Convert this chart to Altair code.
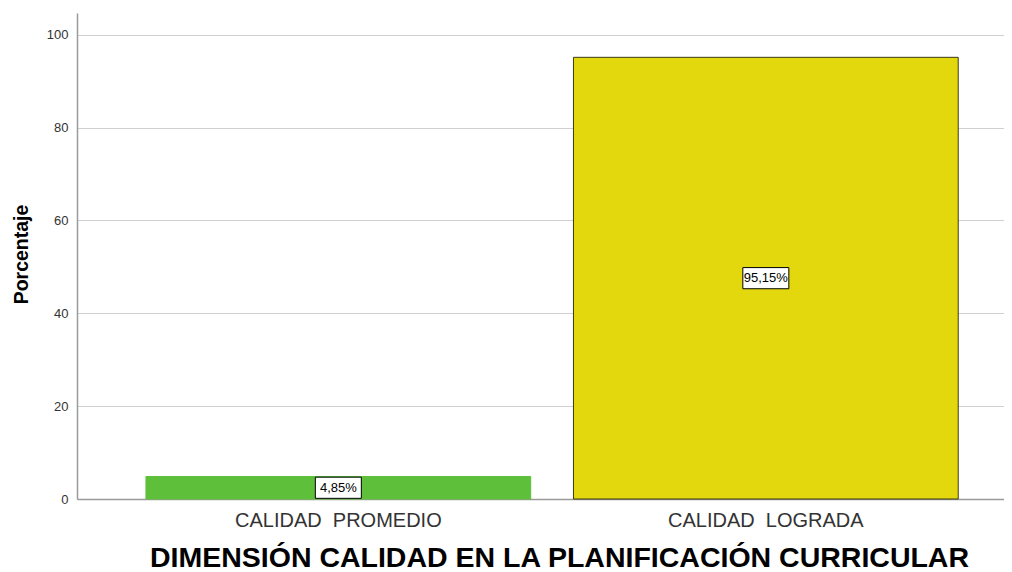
import altair as alt
import pandas as pd

categories = ["CALIDAD\u00a0\u00a0PROMEDIO", "CALIDAD\u00a0\u00a0LOGRADA"]
values = [4.85, 95.15]
labels = ["4,85%", "95,15%"]
colors = ["#5EC03A", "#E3D70E"]
strokes = ["#5EC03A", "#3a3a1a"]

df = pd.DataFrame({"cat": categories, "val": values, "lab": labels,
                   "col": colors, "stk": strokes})

FONT = "Liberation Sans"

x_enc = alt.X("cat:N", sort=categories, title=None,
              scale=alt.Scale(paddingInner=0.1, paddingOuter=0.1342, align=0.601),
              axis=alt.Axis(title="DIMENSIÓN CALIDAD EN LA PLANIFICACIÓN CURRICULAR",
                            titleFont=FONT, titleFontSize=28.5, titleFontWeight="bold",
                            titleColor="#000000", titleBaseline="alphabetic",
                            titleX=482, titleY=67, titleAlign="center",
                            labelFont=FONT, labelFontSize=20, labelColor="#333333",
                            labelPadding=11, labelAngle=0, labelLimit=0, ticks=False,
                            domainColor="#9a9a9a", domainWidth=1.5))

y_scale = alt.Scale(domain=[0, 104.7], nice=False)

bars = alt.Chart(df).mark_bar(strokeWidth=1).encode(
    x=x_enc,
    y=alt.Y("val:Q", scale=y_scale,
            axis=alt.Axis(title="Porcentaje", values=[0, 20, 40, 60, 80, 100],
                          titleFont=FONT, titleFontSize=19.5, titleFontWeight="bold",
                          titleColor="#000000", titleAngle=270,
                          titleBaseline="alphabetic", titleAlign="center",
                          titleX=-50, titleY=241,
                          labelFont=FONT, labelFontSize=13, labelColor="#333333",
                          labelPadding=9, ticks=False, grid=True,
                          gridColor="#d0d0d0", gridWidth=1,
                          domainColor="#9a9a9a", domainWidth=1.5)),
    fill=alt.Fill("col:N", scale=None),
    stroke=alt.Stroke("stk:N", scale=None),
)

boxes = alt.Chart(df).transform_calculate(mid="datum.val / 2").mark_point(
    shape="M-1,-0.46H1V0.46H-1Z", size=2116, filled=True, fill="#ffffff",
    stroke="#000000", strokeWidth=1, opacity=1
).encode(
    x=alt.X("cat:N", sort=categories),
    y=alt.Y("mid:Q", scale=y_scale),
)

texts = alt.Chart(df).transform_calculate(mid="datum.val / 2").mark_text(
    font=FONT, fontSize=13, color="#000000", baseline="middle", align="center"
).encode(
    x=alt.X("cat:N", sort=categories),
    y=alt.Y("mid:Q", scale=y_scale),
    text="lab:N",
)

chart = alt.layer(bars, boxes, texts).properties(
    width=927, height=486,
    background="#ffffff",
    autosize=alt.AutoSizeParams(type="none"),
    padding={"left": 69, "top": 5, "right": 0, "bottom": 73},
).configure_view(stroke=None)

chart.save("out.html", embed_options={"renderer": "svg", "actions": False})
